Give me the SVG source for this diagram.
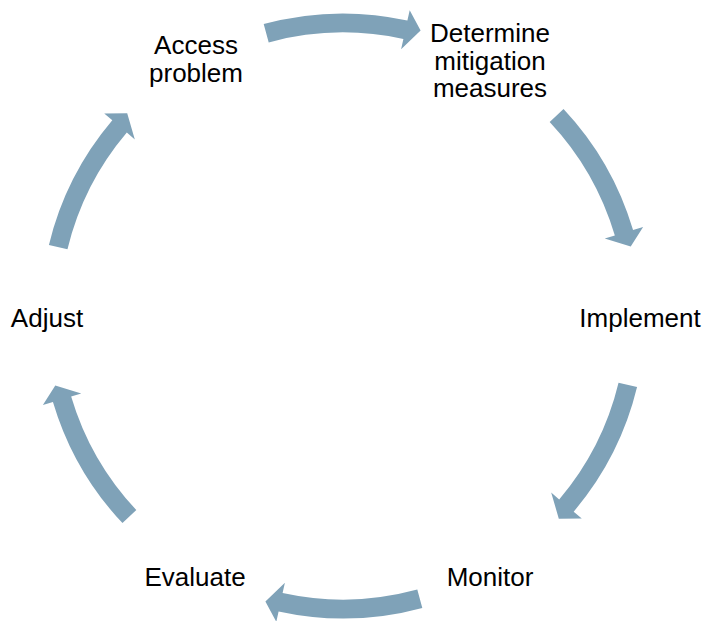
<svg xmlns="http://www.w3.org/2000/svg" width="704" height="621" viewBox="0 0 704 621">
<style>
.lbl{font-family:"Liberation Sans",Arial,sans-serif;font-size:26px;fill:#000;text-anchor:middle}
.arr{fill:#7fa2b8}
</style>
<defs>
<path id="arcA" d="M292.5,-77.3 A302.5,302.5 0 0 1 296.0,62.4 L306.3,64.5 L286.2,75.6 L267.1,56.3 L277.4,58.5 A283.5,283.5 0 0 0 274.1,-72.4 Z"/>
<path id="arcB" d="M291.9,-79.3 A302.5,302.5 0 0 1 295.5,64.4 L305.8,66.7 L285.6,77.6 L266.7,58.1 L277.0,60.4 A283.5,283.5 0 0 0 273.6,-74.3 Z"/>
</defs>
<rect width="704" height="621" fill="#fff"/>
<g id="connectors" class="arr">
<use href="#arcB" transform="translate(343 316) rotate(-90)"/>
<use href="#arcA" transform="translate(343 316) rotate(-28.4)"/>
<use href="#arcA" transform="translate(343 316) rotate(28.4)"/>
<use href="#arcB" transform="translate(343 316) rotate(90)"/>
<use href="#arcA" transform="translate(343 316) rotate(151.6)"/>
<use href="#arcA" transform="translate(343 316) rotate(-151.6)"/>
</g>
<g id="node-access"><text class="lbl" x="196" y="54">Access</text><text class="lbl" x="196" y="82">problem</text></g>
<g id="node-determine"><text class="lbl" x="490" y="42">Determine</text><text class="lbl" x="490" y="69.5">mitigation</text><text class="lbl" x="490" y="97">measures</text></g>
<g id="node-implement"><text class="lbl" x="640" y="326.5">Implement</text></g>
<g id="node-monitor"><text class="lbl" x="490" y="585.5">Monitor</text></g>
<g id="node-evaluate"><text class="lbl" x="195" y="586">Evaluate</text></g>
<g id="node-adjust"><text class="lbl" x="47" y="326.5">Adjust</text></g>
</svg>
